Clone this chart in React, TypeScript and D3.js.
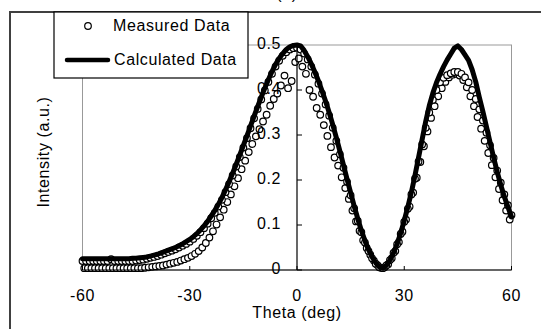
import React from "react";
import * as d3 from "d3";

// Calculated data, theta = -60..60 step 1 deg
const calcTheta0 = -60;
const calculated = [
  0.025, 0.025, 0.025, 0.025, 0.025, 0.025, 0.025, 0.025, 0.025, 0.025, 0.025, 0.025, 0.025, 0.025,
  0.026, 0.026, 0.027, 0.028, 0.029, 0.031, 0.033, 0.035, 0.038, 0.041, 0.044, 0.047, 0.050, 0.054,
  0.058, 0.063, 0.068, 0.074, 0.081, 0.089, 0.098, 0.108, 0.120, 0.132, 0.146, 0.161, 0.178, 0.196,
  0.215, 0.235, 0.256, 0.277, 0.298, 0.320, 0.342, 0.363, 0.384, 0.404, 0.423, 0.441, 0.457, 0.470,
  0.481, 0.490, 0.496, 0.499, 0.500, 0.498, 0.488, 0.474, 0.458, 0.440, 0.420, 0.398, 0.375, 0.350,
  0.323, 0.294, 0.264, 0.233, 0.202, 0.172, 0.142, 0.114, 0.088, 0.065, 0.045, 0.029, 0.016, 0.007,
  0.004, 0.010, 0.022, 0.038, 0.058, 0.082, 0.110, 0.140, 0.173, 0.210, 0.250, 0.290, 0.330, 0.365,
  0.393, 0.416, 0.435, 0.452, 0.467, 0.480, 0.493, 0.498, 0.490, 0.478, 0.466, 0.445, 0.418, 0.384,
  0.352, 0.318, 0.284, 0.250, 0.218, 0.189, 0.163, 0.140, 0.118,
];

// Measured data, scan A: theta = -60..60 step 1 deg
const measuredATheta0 = -60;
const measuredA = [
  0.020, 0.020, 0.020, 0.020, 0.020, 0.020, 0.020, 0.020, 0.024, 0.020, 0.020, 0.020, 0.020, 0.020,
  0.020, 0.021, 0.022, 0.023, 0.025, 0.027, 0.029, 0.031, 0.034, 0.037, 0.040, 0.043, 0.046, 0.050,
  0.054, 0.058, 0.063, 0.069, 0.076, 0.084, 0.093, 0.103, 0.115, 0.127, 0.141, 0.156, 0.173, 0.191,
  0.210, 0.230, 0.251, 0.272, 0.293, 0.315, 0.337, 0.358, 0.379, 0.399, 0.418, 0.436, 0.452, 0.465,
  0.476, 0.484, 0.490, 0.493, 0.494, 0.490, 0.481, 0.468, 0.452, 0.434, 0.414, 0.392, 0.368, 0.343,
  0.316, 0.287, 0.257, 0.227, 0.196, 0.166, 0.137, 0.109, 0.084, 0.061, 0.042, 0.026, 0.014, 0.006,
  0.004, 0.010, 0.022, 0.038, 0.057, 0.080, 0.107, 0.136, 0.168, 0.203, 0.241, 0.279, 0.316, 0.350,
  0.378, 0.400, 0.417, 0.427, 0.433, 0.437, 0.440, 0.440, 0.436, 0.428, 0.417, 0.400, 0.380, 0.357,
  0.332, 0.305, 0.277, 0.249, 0.221, 0.194, 0.168, 0.144, 0.122,
];

// Measured data, scan B: theta = -59.5..59.5 step 1 deg
const measuredBTheta0 = -59.5;
const measuredB = [
  0.004, 0.004, 0.004, 0.004, 0.004, 0.004, 0.004, 0.004, 0.004, 0.004, 0.004, 0.004, 0.004, 0.004,
  0.004, 0.004, 0.004, 0.005, 0.006, 0.007, 0.008, 0.009, 0.010, 0.012, 0.014, 0.016, 0.018, 0.021,
  0.024, 0.027, 0.031, 0.036, 0.042, 0.050, 0.060, 0.072, 0.086, 0.101, 0.117, 0.134, 0.151, 0.168,
  0.186, 0.204, 0.224, 0.243, 0.262, 0.280, 0.297, 0.313, 0.330, 0.345, 0.365, 0.380, 0.392, 0.410,
  0.432, 0.404, 0.420, 0.462, 0.470, 0.452, 0.436, 0.400, 0.385, 0.360, 0.345, 0.322, 0.298, 0.273,
  0.250, 0.232, 0.206, 0.182, 0.158, 0.132, 0.108, 0.087, 0.066, 0.049, 0.034, 0.021, 0.011, 0.005,
  0.006, 0.013, 0.026, 0.042, 0.062, 0.085, 0.112, 0.141, 0.172, 0.205, 0.240, 0.275, 0.308, 0.338,
  0.364, 0.386, 0.404, 0.418, 0.428, 0.434, 0.436, 0.432, 0.422, 0.406, 0.386, 0.364, 0.340, 0.314,
  0.287, 0.260, 0.233, 0.206, 0.180, 0.155, 0.132, 0.112,
];

const xTicks = [-60, -30, 0, 30, 60];
const yTicks = [0, 0.1, 0.2, 0.3, 0.4, 0.5];
const yTickLabels = ["0", "0.1", "0.2", "0.3", "0.4", "0.5"];
const legendLabels = ["Measured Data", "Calculated Data"];

const FONT = "'Liberation Sans', Arial, sans-serif";

export default function App() {
  const W = 541;
  const H = 329;
  const x = d3.scaleLinear().domain([-60, 60]).range([82.5, 511.5]);
  const y = d3.scaleLinear().domain([0, 0.5]).range([270, 45]);

  const calcPts: [number, number][] = calculated.map((v, i) => [calcTheta0 + i, v]);
  const measPts: [number, number][] = [
    ...measuredB.map((v, i) => [measuredBTheta0 + i, v] as [number, number]),
    ...measuredA.map((v, i) => [measuredATheta0 + i, v] as [number, number]),
  ];

  const line = d3
    .line<[number, number]>()
    .x((d) => x(d[0]))
    .y((d) => y(d[1]));

  const textStyle: React.CSSProperties = { fontFamily: FONT, fontSize: 16, letterSpacing: 0.6 };

  return (
    <svg
      width={W}
      height={H}
      style={{ position: "absolute", left: 0, top: 0, background: "#fff" }}
    >
      <rect x={0} y={0} width={W} height={H} fill="#fff" />
      {/* outer chart frame */}
      <line x1={9} y1={12} x2={W} y2={12} stroke="#404040" strokeWidth={2} />
      <line x1={10} y1={12} x2={10} y2={H} stroke="#404040" strokeWidth={2} />
      {/* title, mostly cut off */}
      <text x={287} y={-1} textAnchor="middle" style={textStyle} fill="#000">
        (a)
      </text>

      {/* plot area border */}
      <rect
        x={x(-60)}
        y={y(0.5)}
        width={x(60) - x(-60)}
        height={y(0) - y(0.5)}
        fill="none"
        stroke="#999"
        strokeWidth={1}
      />

      {/* measured markers */}
      <g>
        {measPts.map((d, i) => (
          <circle
            key={i}
            cx={x(d[0])}
            cy={y(d[1])}
            r={3.3}
            fill="#fff"
            stroke="#000"
            strokeWidth={1.2}
          />
        ))}
      </g>

      {/* calculated line */}
      <path
        d={line(calcPts) || ""}
        fill="none"
        stroke="#000"
        strokeWidth={5}
        strokeLinejoin="round"
        strokeLinecap="round"
      />

      {/* x axis */}
      <line x1={x(-60)} y1={y(0)} x2={x(60)} y2={y(0)} stroke="#000" strokeWidth={1.2} />
      {xTicks.map((t) => (
        <g key={t}>
          <line x1={x(t)} y1={y(0)} x2={x(t)} y2={y(0) - 4} stroke="#000" strokeWidth={1} />
          <text
            x={x(t)}
            y={297}
            textAnchor="middle"
            dominantBaseline="middle"
            style={textStyle}
            fill="#000"
          >
            {t}
          </text>
        </g>
      ))}
      <text
        x={297}
        y={314}
        textAnchor="middle"
        dominantBaseline="middle"
        style={textStyle}
        fill="#000"
      >
        Theta (deg)
      </text>

      {/* y axis at theta = 0 */}
      <line x1={x(0)} y1={y(0.5)} x2={x(0)} y2={y(0)} stroke="#000" strokeWidth={1.2} />
      {yTicks.map((t, i) => (
        <g key={t}>
          <line x1={x(0)} y1={y(t)} x2={x(0) + 5} y2={y(t)} stroke="#000" strokeWidth={1} />
          <text
            x={281}
            y={y(t)}
            textAnchor="end"
            dominantBaseline="middle"
            style={textStyle}
            fill="#000"
          >
            {yTickLabels[i]}
          </text>
        </g>
      ))}
      <text
        transform="translate(45,152) rotate(-90)"
        textAnchor="middle"
        dominantBaseline="middle"
        style={textStyle}
        fill="#000"
      >
        Intensity (a.u.)
      </text>

      {/* legend */}
      <rect x={54} y={12} width={194} height={66} fill="#fff" stroke="#000" strokeWidth={1.2} />
      <circle cx={88} cy={26} r={3.3} fill="#fff" stroke="#000" strokeWidth={1.2} />
      <text x={113} y={27} dominantBaseline="middle" style={textStyle} fill="#000">
        {legendLabels[0]}
      </text>
      <line x1={67} y1={60} x2={108} y2={60} stroke="#000" strokeWidth={4.5} strokeLinecap="round" />
      <text x={114} y={61} dominantBaseline="middle" style={textStyle} fill="#000">
        {legendLabels[1]}
      </text>
    </svg>
  );
}
